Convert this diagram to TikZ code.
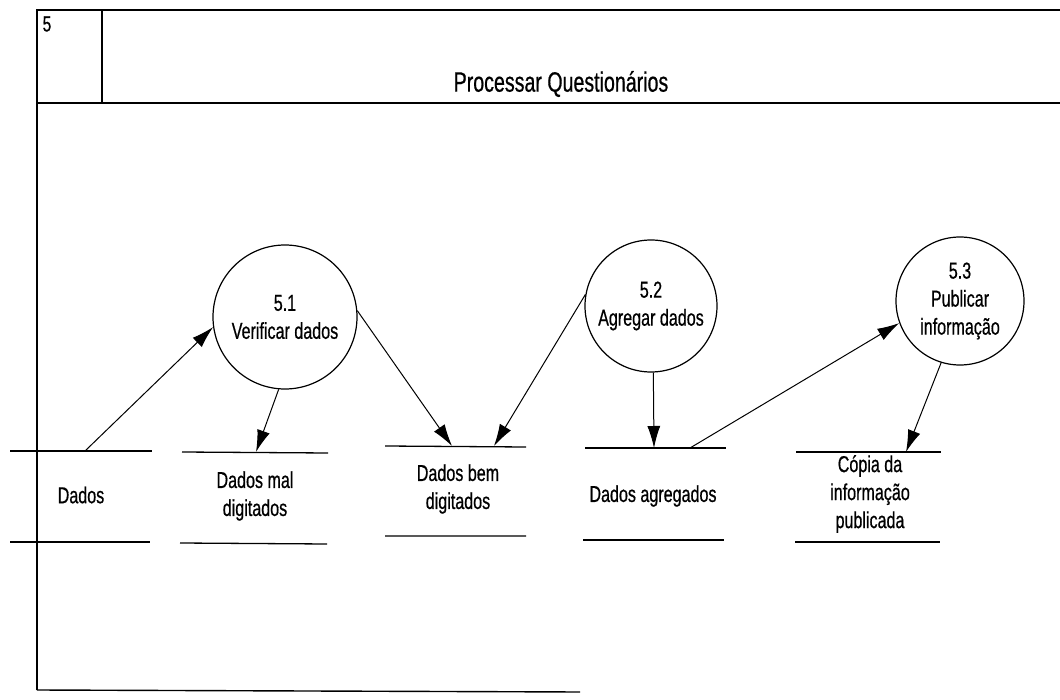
\documentclass[tikz,border=0pt]{standalone}
\usepackage{fontspec}
\setmainfont{Liberation Sans}[FakeStretch=0.70,FakeBold=0.6]
\usetikzlibrary{arrows.meta}
\begin{document}
\begin{tikzpicture}[x=1pt,y=-1pt,
  frameline/.style={line width=1.4pt},
  storeline/.style={line width=1.3pt},
  proc/.style={circle,draw,line width=1.2pt,minimum size=#1,inner sep=0pt,align=center,font=\fontsize{23}{28}\selectfont},
  lbl/.style={align=center,font=\fontsize{23}{28}\selectfont},
  flow/.style={line width=1pt,-{Latex[length=22pt,width=13pt]}}]
\useasboundingbox (0,0) rectangle (1060,700);
% frame
\draw[frameline] (37,690) -- (37,10) -- (1060,10);
\draw[frameline] (37,103) -- (1060,103);
\draw[frameline] (102,10) -- (102,103);
\draw[frameline] (37,690) -- (580,692);
\node[font=\fontsize{22}{24}\selectfont] (num) at (47,24) {5};
\node[font=\fontsize{28}{30}\selectfont] (title) at (561,84) {Processar Questionários};
% processes
\node[proc=144pt] (p1) at (285,317) {5.1\\Verificar dados};
\node[proc=132pt] (p2) at (651,306) {5.2\\Agregar dados};
\node[proc=128pt] (p3) at (960,301) {5.3\\Publicar\\informação};
% stores
\draw[storeline] (10,451) -- (152,451) (10,542) -- (150,542);
\node[lbl] (s1) at (81,495) {Dados};
\draw[storeline] (182,452) -- (328,453) (180,543) -- (327,544);
\node[lbl] (s2) at (255,496) {Dados mal\\digitados};
\draw[storeline] (385,446) -- (526,447) (385,536) -- (526,536);
\node[lbl] (s3) at (458,489) {Dados bem\\digitados};
\draw[storeline] (585,448) -- (726,448) (583,540) -- (724,540);
\node[lbl] (s4) at (653,496) {Dados agregados};
\draw[storeline] (796,452) -- (941,452) (795,542) -- (940,542);
\node[lbl] (s5) at (870,494) {Cópia da\\informação\\publicada};
% connector anchors on stores
\coordinate (s1t) at (85,451);
\coordinate (s2t) at (256,452);
\coordinate (s3a) at (452,446);
\coordinate (s3b) at (494,446);
\coordinate (s4t) at (654,448);
\coordinate (s4o) at (690,448);
\coordinate (s5t) at (906,452);
% flows
\draw[flow] (s1t) -- (p1.188);
\draw[flow] (p1.265) -- (s2t);
\draw[flow] (p1.5) -- (s3a);
\draw[flow] (p2.170) -- (s3b);
\draw[flow] (p2.272) -- (s4t);
\draw[flow] (s4o) -- (p3.200);
\draw[flow] (p3.253) -- (s5t);
\end{tikzpicture}
\end{document}
